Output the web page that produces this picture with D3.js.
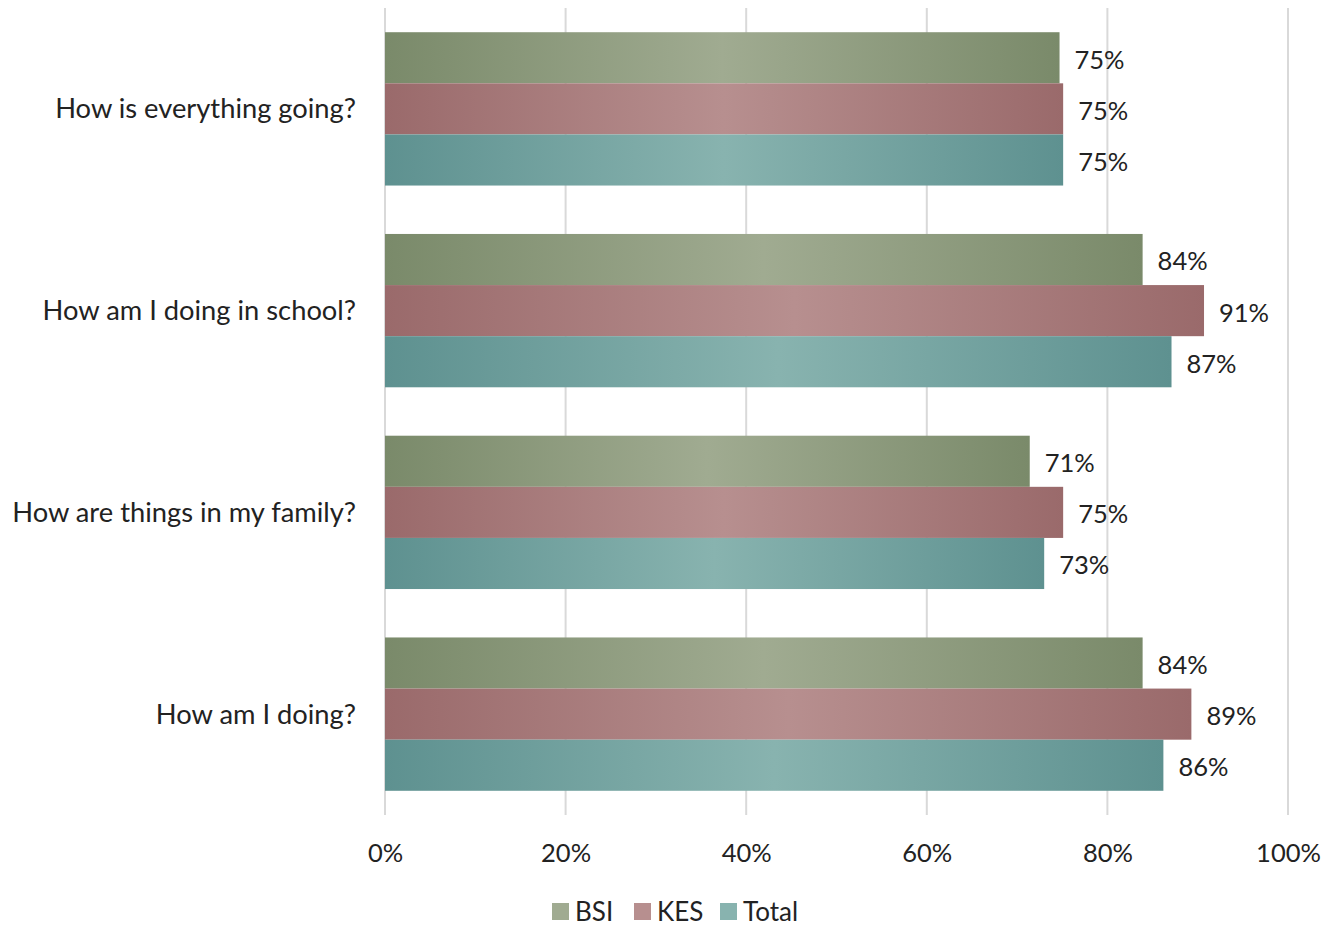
<!DOCTYPE html>
<html><head><meta charset="utf-8">
<script src="https://cdn.jsdelivr.net/npm/d3@7"></script>
<style>body{margin:0;background:#fff}svg{display:block}</style>
</head><body>
<svg id="chart" width="1333" height="926"></svg>
<script>
const categories = ["How is everything going?", "How am I doing in school?", "How are things in my family?", "How am I doing?"];
const seriesNames = ["BSI", "KES", "Total"];
const bsiValues = [74.7, 83.9, 71.4, 83.9];
const kesValues = [75.1, 90.7, 75.1, 89.3];
const totalValues = [75.1, 87.1, 73.0, 86.2];
const xTicks = [0, 20, 40, 60, 80, 100];
const seriesColors = {BSI: ["#7a8a6a", "#a0ab91"], KES: ["#9a6a6b", "#b78f8f"], Total: ["#5e9190", "#88b3af"]};

const data = [bsiValues, kesValues, totalValues];
const svg = d3.select("#chart");
const font = "Lato, 'Open Sans', sans-serif";
const fsLabel = 27.3;
const fsNum = 25.5;

const x = d3.scaleLinear().domain([0, 100]).range([385, 1288]);
const y = d3.scaleBand().domain(categories).range([8, 815]).paddingInner(0.24).paddingOuter(0.12);
const ySub = d3.scaleBand().domain(seriesNames).range([0, y.bandwidth()]);

const defs = svg.append("defs");
seriesNames.forEach(s => {
  const g = defs.append("linearGradient").attr("id", "grad-" + s).attr("x1", "0%").attr("x2", "100%").attr("y1", "0%").attr("y2", "0%");
  g.append("stop").attr("offset", "0%").attr("stop-color", seriesColors[s][0]);
  g.append("stop").attr("offset", "50%").attr("stop-color", seriesColors[s][1]);
  g.append("stop").attr("offset", "100%").attr("stop-color", seriesColors[s][0]);
});

// gridlines
svg.append("g").selectAll("line").data(xTicks).join("line")
  .attr("x1", d => x(d)).attr("x2", d => x(d)).attr("y1", 8).attr("y2", 815)
  .attr("stroke", "#d9d9d9").attr("stroke-width", 2);

// bars
const groups = svg.append("g").selectAll("g").data(categories).join("g")
  .attr("transform", c => `translate(0,${y(c)})`);
groups.each(function(c, i) {
  const g = d3.select(this);
  seriesNames.forEach((s, j) => {
    const v = data[j][i];
    g.append("rect").attr("x", x(0)).attr("y", ySub(s)).attr("width", x(v) - x(0)).attr("height", ySub.bandwidth())
      .attr("fill", `url(#grad-${s})`);
    g.append("text").attr("x", x(v) + 15).attr("y", ySub(s) + ySub.bandwidth() / 2 + 2).attr("dy", "0.35em")
      .attr("font-family", font).attr("font-size", fsNum).attr("fill", "#222")
      .text(Math.round(v) + "%");
  });
});

// y axis labels
svg.append("g").selectAll("text").data(categories).join("text")
  .attr("x", 356).attr("y", c => y(c) + y.bandwidth() / 2).attr("dy", "0.35em").attr("text-anchor", "end")
  .attr("font-family", font).attr("font-size", fsLabel).attr("fill", "#222").text(c => c);

// x axis
const xAxis = d3.axisBottom(x).tickValues(xTicks).tickFormat(d => d + "%").tickSize(0);
const ax = svg.append("g").attr("transform", "translate(0,815)").call(xAxis);
ax.select(".domain").remove();
ax.selectAll("text").attr("font-family", font).attr("font-size", fsNum).attr("fill", "#222").attr("dy", "0").attr("y", 47);

// legend
const legendX = [552, 634, 720];
const leg = svg.append("g").selectAll("g").data(seriesNames).join("g")
  .attr("transform", (d, i) => `translate(${legendX[i]},903)`);
leg.append("rect").attr("width", 17).attr("height", 17).attr("fill", d => seriesColors[d][1]);
leg.append("text").attr("x", 23).attr("y", 9).attr("dy", "0.35em").attr("font-family", font).attr("font-size", 26).attr("fill", "#222").text(d => d);
</script>
</body></html>
